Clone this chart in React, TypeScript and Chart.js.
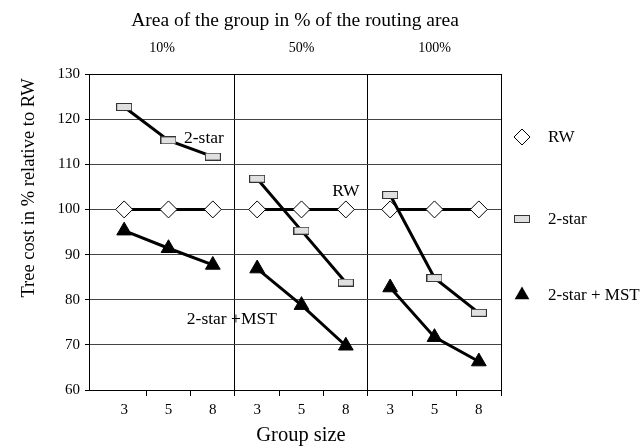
import React, { useEffect, useRef } from 'react';
import { Chart, registerables } from 'chart.js';

Chart.register(...registerables);

// ---- data ----
const groupSizes = ['3', '5', '8'];
const areaLabels = ['10%', '50%', '100%'];
const seriesNames = ['RW', '2-star', '2-star + MST'];
const rwValues = [100, 100, 100, 100, 100, 100, 100, 100, 100];
const twoStarValues = [122.7, 115.3, 111.7, 106.8, 95.3, 83.8, 103.2, 84.8, 77.1];
const mstValues = [95.3, 91.4, 87.7, 86.9, 78.8, 69.8, 82.7, 71.7, 66.3];
const yMin = 60;
const yMax = 130;
const yStep = 10;

const titleText = 'Area of the group in % of the routing area';
const xTitle = 'Group size';
const yTitle = 'Tree cost in % relative to RW';

const FONT = '"Liberation Serif", "Times New Roman", serif';

function toPoints(vals: number[]) {
  const pts: { x: number; y: number | null }[] = [];
  vals.forEach((v, i) => {
    const g = Math.floor(i / 3);
    pts.push({ x: i + 0.5, y: v });
    if (i % 3 === 2 && g < 2) pts.push({ x: g * 3 + 3, y: null });
  });
  return pts;
}

function makeSquare() {
  const c = document.createElement('canvas');
  c.width = 16;
  c.height = 8;
  const x = c.getContext('2d')!;
  x.fillStyle = '#e0e0e0';
  x.fillRect(0, 0, 16, 8);
  x.strokeStyle = '#333';
  x.lineWidth = 1;
  x.strokeRect(0.5, 0.5, 15, 7);
  return c;
}

export default function App() {
  const ref = useRef<HTMLCanvasElement>(null);

  useEffect(() => {
    if (!ref.current) return;
    const square = makeSquare();
    const xMin = -0.293;

    const textPlugin = {
      id: 'texts',
      afterDraw(chart: any) {
        const ctx = chart.ctx;
        const xs = chart.scales.x;
        const ys = chart.scales.y;
        ctx.save();
        ctx.fillStyle = '#000';
        ctx.textBaseline = 'middle';
        ctx.textAlign = 'center';
        // top title
        ctx.font = `19.5px ${FONT}`;
        ctx.fillText(titleText, (chart.chartArea.left + chart.chartArea.right) / 2, 21);
        // group labels
        ctx.font = `14px ${FONT}`;
        const bounds = [xMin, 3, 6, 9];
        areaLabels.forEach((l, i) => {
          const cx = xs.getPixelForValue((bounds[i] + bounds[i + 1]) / 2);
          ctx.fillText(l, cx, 48);
        });
        // x title
        ctx.font = `20.5px ${FONT}`;
        ctx.fillText(xTitle, 301, 436);
        // y title
        ctx.save();
        ctx.font = `18.5px ${FONT}`;
        ctx.translate(29, 188);
        ctx.rotate(-Math.PI / 2);
        ctx.fillText(yTitle, 0, 0);
        ctx.restore();
        // annotations
        ctx.font = `17.5px ${FONT}`;
        ctx.fillText('2-star', xs.getPixelForValue(2.3), ys.getPixelForValue(115.8));
        ctx.fillText('RW', xs.getPixelForValue(5.5), ys.getPixelForValue(104.1));
        ctx.fillText('2-star +MST', xs.getPixelForValue(2.93), ys.getPixelForValue(75.7));

        // legend
        ctx.font = `17px ${FONT}`;
        const lx = 522;
        const ly = [137, 219, 295];
        ctx.textAlign = 'left';
        seriesNames.forEach((n, i) => {
          ctx.fillText(n, 548, ly[i] + 1);
        });
        // diamond
        ctx.beginPath();
        ctx.moveTo(lx - 8, ly[0]);
        ctx.lineTo(lx, ly[0] - 8);
        ctx.lineTo(lx + 8, ly[0]);
        ctx.lineTo(lx, ly[0] + 8);
        ctx.closePath();
        ctx.fillStyle = '#fff';
        ctx.fill();
        ctx.strokeStyle = '#000';
        ctx.lineWidth = 1;
        ctx.stroke();
        // square
        ctx.drawImage(square, lx - 8, ly[1] - 4);
        // triangle
        const r = 8.5;
        ctx.beginPath();
        ctx.moveTo(lx, ly[2] - r);
        ctx.lineTo(lx + r * Math.sin((2 * Math.PI) / 3), ly[2] + r / 2);
        ctx.lineTo(lx - r * Math.sin((2 * Math.PI) / 3), ly[2] + r / 2);
        ctx.closePath();
        ctx.fillStyle = '#000';
        ctx.fill();
        ctx.restore();
      },
    };

    const xTickValues: number[] = [];
    for (let v = 0.5; v <= 9.001; v += 0.5) xTickValues.push(Math.round(v * 10) / 10);

    const chart = new Chart(ref.current, {
      type: 'line',
      data: {
        datasets: [
          {
            label: seriesNames[0],
            data: toPoints(rwValues),
            borderColor: '#000',
            borderWidth: 3,
            pointStyle: 'rectRot',
            pointRadius: 8.5,
            pointBackgroundColor: '#fff',
            pointBorderColor: '#000',
            pointBorderWidth: 1,
            spanGaps: false,
            order: 3,
          },
          {
            label: seriesNames[1],
            data: toPoints(twoStarValues),
            borderColor: '#000',
            borderWidth: 3,
            pointStyle: square as any,
            pointRadius: 8,
            spanGaps: false,
            order: 2,
          },
          {
            label: seriesNames[2],
            data: toPoints(mstValues),
            borderColor: '#000',
            borderWidth: 3,
            pointStyle: 'triangle',
            pointRadius: 8.5,
            pointBackgroundColor: '#000',
            pointBorderColor: '#000',
            pointBorderWidth: 1,
            spanGaps: false,
            order: 1,
          },
        ],
      },
      options: {
        animation: false,
        responsive: false,
        devicePixelRatio: 1,
        layout: { padding: { left: 0, right: 143, top: 74, bottom: 0 } },
        plugins: { legend: { display: false }, tooltip: { enabled: false }, title: { display: false } },
        scales: {
          x: {
            type: 'linear',
            min: xMin,
            max: 9,
            afterBuildTicks: (scale: any) => {
              scale.ticks = xTickValues.map((v) => ({ value: v }));
            },
            afterFit: (scale: any) => {
              scale.height = 57;
            },
            ticks: {
              autoSkip: false,
              maxRotation: 0,
              padding: 5,
              color: '#000',
              font: { family: FONT, size: 15 },
              callback: (v: any) => {
                const n = Number(v);
                if (Math.abs(n - Math.floor(n) - 0.5) < 0.01) return groupSizes[Math.floor(n) % 3];
                return '';
              },
            },
            grid: {
              drawTicks: true,
              tickLength: 6,
              color: (c: any) => {
                const v = c.tick ? c.tick.value : null;
                return v === 3 || v === 6 || v === 9 ? '#000' : 'rgba(0,0,0,0)';
              },
              tickColor: (c: any) => {
                const v = c.tick ? c.tick.value : null;
                return v !== null && Math.abs(v - Math.round(v)) < 0.01 ? '#000' : 'rgba(0,0,0,0)';
              },
              lineWidth: 1,
            },
            border: { display: true, color: '#000', width: 1 },
          },
          y: {
            type: 'linear',
            min: yMin,
            max: yMax,
            afterFit: (scale: any) => {
              scale.width = 89;
            },
            ticks: {
              stepSize: yStep,
              padding: 5,
              color: '#000',
              font: { family: FONT, size: 15 },
            },
            grid: {
              drawTicks: true,
              tickLength: 4,
              color: (c: any) => (c.tick && c.tick.value === yMax ? '#000' : '#444'),
              tickColor: '#000',
              lineWidth: 1,
            },
            border: { display: true, color: '#000', width: 1 },
          },
        },
      },
      plugins: [textPlugin],
    } as any);

    return () => chart.destroy();
  }, []);

  return (
    <div style={{ position: 'fixed', left: 0, top: 0, width: 644, height: 447, background: '#fff' }}>
      <canvas ref={ref} width={644} height={447} style={{ display: 'block', width: 644, height: 447 }} />
    </div>
  );
}
